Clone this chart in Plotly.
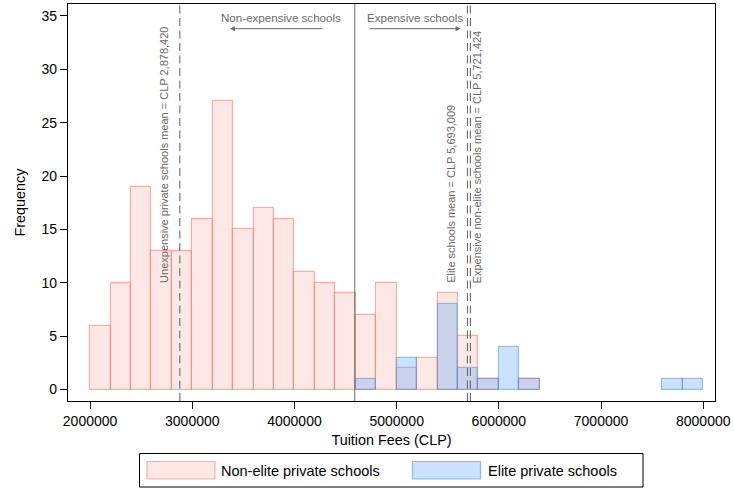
import plotly.graph_objects as go

# ---------------- data ----------------
bin_width = 200000
nonelite_bins = [2000000, 2200000, 2400000, 2600000, 2800000, 3000000, 3200000, 3400000,
                 3600000, 3800000, 4000000, 4200000, 4400000, 4600000, 4800000, 5000000,
                 5200000, 5400000, 5600000, 5800000, 6000000, 6200000]
nonelite_counts = [6, 10, 19, 13, 13, 16, 27, 15, 17, 16, 11, 10, 9, 7, 10, 2, 3, 9, 5, 1, 0, 1]

elite_bins = [4600000, 4800000, 5000000, 5200000, 5400000, 5600000, 5800000, 6000000,
              6200000, 7600000, 7800000]
elite_counts = [1, 0, 3, 0, 8, 2, 1, 4, 1, 1, 1]

threshold = 4590000
mean_unexpensive = 2878420
mean_elite = 5693009
mean_expensive_nonelite = 5721424

x_ticks = [2000000, 3000000, 4000000, 5000000, 6000000, 7000000, 8000000]
y_ticks = [0, 5, 10, 15, 20, 25, 30, 35]

series_names = ["Non-elite private schools", "Elite private schools"]

# ---------------- style ----------------
FONT = "Liberation Sans, Arial, sans-serif"
PINK_FILL = "rgba(250,128,114,0.18)"
PINK_LINE = "rgba(245,130,110,0.6)"
BLUE_FILL = "rgba(80,160,250,0.30)"
BLUE_LINE = "rgba(70,140,230,0.50)"
GREY = "#6a6a6a"

W, H = 734, 491
ML, MR, MT, MB = 68, 19, 4, 90


def px(x):
    return (x - ML) / (W - ML - MR)


def py(y):
    return (H - MB - y) / (H - MT - MB)


def keep(bins, counts):
    b = [x for x, c in zip(bins, counts) if c > 0]
    c = [c for c in counts if c > 0]
    return b, c


fig = go.Figure()

nb, nc = keep(nonelite_bins, nonelite_counts)
eb, ec = keep(elite_bins, elite_counts)

fig.add_trace(go.Bar(x=nb, y=nc, width=bin_width, offset=0, name=series_names[0],
                     marker=dict(color=PINK_FILL, line=dict(color=PINK_LINE, width=1.2)),
                     showlegend=False))
fig.add_trace(go.Bar(x=eb, y=ec, width=bin_width, offset=0, name=series_names[1],
                     marker=dict(color=BLUE_FILL, line=dict(color=BLUE_LINE, width=1.2)),
                     showlegend=False))

# vertical reference lines
fig.add_shape(type="line", xref="x", yref="paper", x0=threshold, x1=threshold, y0=0, y1=1,
              line=dict(color=GREY, width=1))
for xv in [mean_unexpensive, mean_elite, mean_expensive_nonelite]:
    fig.add_shape(type="line", xref="x", yref="paper", x0=xv, x1=xv, y0=0, y1=1,
                  line=dict(color=GREY, width=1.1, dash="8px,4.5px"))

annots = []
# rotated mean labels
annots.append(dict(x=2723000, y=9.8, xref="x", yref="y", text="Unexpensive private schools mean = CLP 2,878,420",
                   textangle=-90, showarrow=False, xanchor="center", yanchor="bottom",
                   font=dict(family=FONT, size=11, color=GREY)))
annots.append(dict(x=5531000, y=9.8, xref="x", yref="y", text="Elite schools mean = CLP 5,693,009",
                   textangle=-90, showarrow=False, xanchor="center", yanchor="bottom",
                   font=dict(family=FONT, size=11, color=GREY)))
annots.append(dict(x=5786000, y=9.8, xref="x", yref="y", text="Expensive non-elite schools mean = CLP 5,721,424",
                   textangle=-90, showarrow=False, xanchor="center", yanchor="bottom",
                   font=dict(family=FONT, size=11, color=GREY)))
# top labels and arrows
annots.append(dict(x=3867000, y=34.85, xref="x", yref="y", text="Non-expensive schools", showarrow=False,
                   font=dict(family=FONT, size=11.6, color=GREY)))
annots.append(dict(x=5179000, y=34.85, xref="x", yref="y", text="Expensive schools", showarrow=False,
                   font=dict(family=FONT, size=11.6, color=GREY)))
annots.append(dict(x=3369000, y=33.8, ax=4289000, ay=33.8, xref="x", yref="y", axref="x", ayref="y",
                   text="", showarrow=True, arrowhead=2, arrowsize=1, arrowwidth=1, arrowcolor=GREY))
annots.append(dict(x=5626000, y=33.8, ax=4722000, ay=33.8, xref="x", yref="y", axref="x", ayref="y",
                   text="", showarrow=True, arrowhead=2, arrowsize=1, arrowwidth=1, arrowcolor=GREY))

# manual legend
fig.add_shape(type="rect", xref="paper", yref="paper", x0=px(139.5), x1=px(643), y0=py(453.5), y1=py(487),
              line=dict(color="black", width=1), fillcolor="white", layer="above")
fig.add_shape(type="rect", xref="paper", yref="paper", x0=px(147), x1=px(215), y0=py(461.5), y1=py(479),
              line=dict(color=PINK_LINE, width=1.2), fillcolor=PINK_FILL, layer="above")
fig.add_shape(type="rect", xref="paper", yref="paper", x0=px(412.5), x1=px(480.5), y0=py(461.5), y1=py(479),
              line=dict(color="rgba(70,150,240,0.6)", width=1.2), fillcolor=BLUE_FILL, layer="above")
annots.append(dict(x=px(219), y=py(470.5), xref="paper", yref="paper", text=series_names[0], showarrow=False,
                   xanchor="left", yanchor="middle", font=dict(family=FONT, size=14.5, color="black")))
annots.append(dict(x=px(485.5), y=py(470.5), xref="paper", yref="paper", text=series_names[1], showarrow=False,
                   xanchor="left", yanchor="middle", font=dict(family=FONT, size=14.5, color="black")))

fig.update_layout(
    width=W, height=H,
    margin=dict(l=ML, r=MR, t=MT, b=MB),
    paper_bgcolor="white", plot_bgcolor="white",
    barmode="overlay", bargap=0,
    showlegend=False,
    annotations=annots,
    font=dict(family=FONT, size=14, color="black"),
)
fig.update_xaxes(range=[1784000, 8115000], tickmode="array", tickvals=x_ticks,
                 ticktext=[str(v) for v in x_ticks], ticks="outside", ticklen=7, tickwidth=1,
                 tickcolor="black", showline=True, linecolor="black", linewidth=1.3, mirror=True,
                 showgrid=False, zeroline=False, tickfont=dict(size=14),
                 title=dict(text="Tuition Fees (CLP)", font=dict(size=14.4), standoff=6))
fig.update_yaxes(range=[-1.07, 36.11], tickmode="array", tickvals=y_ticks, ticks="outside", ticklen=7,
                 tickwidth=1, tickcolor="black", showline=True, linecolor="black", linewidth=1.3, mirror=True,
                 showgrid=False, zeroline=False, tickfont=dict(size=14),
                 title=dict(text="Frequency", font=dict(size=14.4), standoff=12))

fig.write_html("out.html", config={"displayModeBar": False},
               post_script="document.body.style.margin='0';document.body.style.padding='0';")
